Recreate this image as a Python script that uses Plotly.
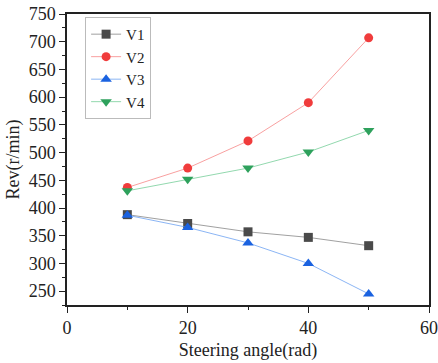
import plotly.graph_objects as go

angle = [10, 20, 30, 40, 50]
v1 = [388, 372, 357, 347, 332]
v2 = [437, 472, 521, 590, 707]
v3 = [387, 365, 337, 300, 245]
v4 = [431, 452, 472, 501, 540]

series = [
    ("V1", v1, "#4a4a4a", "rgba(120,120,120,0.7)", "square", 9),
    ("V2", v2, "#f03c3c", "rgba(245,120,120,0.7)", "circle", 9),
    ("V3", v3, "#1a62e0", "rgba(90,150,240,0.7)", "triangle-up", 10),
    ("V4", v4, "#2ea15c", "rgba(100,200,140,0.7)", "triangle-down", 10),
]

fig = go.Figure()
for name, vals, mc, lc, sym, sz in series:
    fig.add_trace(go.Scatter(
        x=angle, y=vals, name=name, mode="lines+markers",
        line=dict(color=lc, width=1),
        marker=dict(color=mc, symbol=sym, size=sz),
    ))

serif = "Liberation Serif, Times New Roman, serif"
fig.update_layout(
    width=438, height=363,
    margin=dict(l=67, r=9, t=14, b=58),
    paper_bgcolor="white", plot_bgcolor="white",
    font=dict(family=serif, color="#222", size=17),
    showlegend=True,
    legend=dict(x=0.05, y=0.99, xanchor="left", yanchor="top",
                bordercolor="#bbb", borderwidth=1, bgcolor="white",
                font=dict(family=serif, size=15, color="#222"),
                tracegroupgap=0, itemwidth=30),
)
fig.update_xaxes(
    range=[0, 60], tickvals=[0, 20, 40, 60],
    ticks="outside", ticklen=6, tickcolor="#222", tickwidth=1,
    minor=dict(tickvals=[10, 30, 50], ticks="outside", ticklen=3, tickcolor="#222"),
    showline=True, linecolor="#222", linewidth=1.5, mirror=True,
    showgrid=False, zeroline=False, automargin=False,
    title=dict(text="Steering angle(rad)", font=dict(size=18), standoff=6),
    tickfont=dict(size=18),
)
fig.update_yaxes(
    range=[225, 750], tickvals=list(range(250, 751, 50)),
    ticks="outside", ticklen=6, tickcolor="#222", tickwidth=1,
    minor=dict(tickvals=list(range(225, 751, 50)), ticks="outside", ticklen=3, tickcolor="#222"),
    showline=True, linecolor="#222", linewidth=1.5, mirror=True,
    showgrid=False, zeroline=False, automargin=False,
    title=dict(text="Rev(r/min)", font=dict(size=18), standoff=4),
    tickfont=dict(size=18), ticklabelstandoff=0,
)

fig.write_html("out.html", config={"displayModeBar": False},
               post_script="document.body.style.margin='0';")
